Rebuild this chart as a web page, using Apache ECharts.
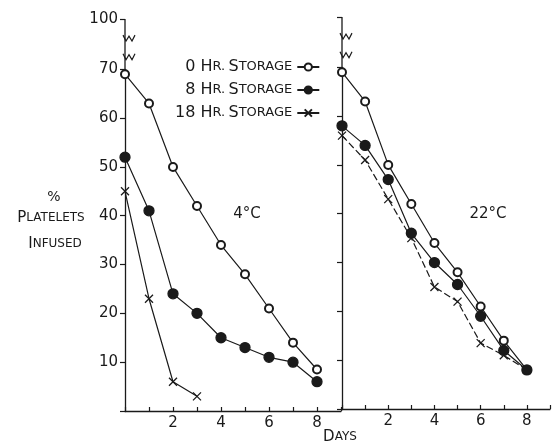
<!DOCTYPE html>
<html>
<head>
<meta charset="utf-8">
<title>Platelets infused after storage</title>
<script src="https://cdn.jsdelivr.net/npm/echarts@6.0.0/dist/echarts.min.js"></script>
<style>
  html, body { margin: 0; padding: 0; background: #fff; }
  #chart { width: 553px; height: 446px; }
</style>
</head>
<body>
<div id="chart"></div>
<script>
// days after infusion
const days = [0, 1, 2, 3, 4, 5, 6, 7, 8];
// 4°C panel
const cold0 = [69, 63, 50, 42, 34, 28, 21, 14, 8.5];
const cold8 = [52, 41, 24, 20, 15, 13, 11, 10, 6];
const cold18 = [45, 23, 6, 3];
// 22°C panel
const warm0 = [69, 63, 50, 42, 34, 28, 21, 14, 8];
const warm8 = [58, 54, 47, 36, 30, 25.5, 19, 12, 8];
const warm18 = [56, 51, 43, 35, 25, 22, 13.5, 11, 8];

const yTickLabels = [10, 20, 30, 40, 50, 60, 70, 100];
const dayLabels = [2, 4, 6, 8];
const seriesNames = ['0 HR. STORAGE', '8 HR. STORAGE', '18 HR. STORAGE'];

const ink = '#1a1a1a';
const font = 'DejaVu Sans';
const xMark = 'path://M0,0L10,10M10,0L0,10';

const pairs = (vals) => vals.map((v, i) => [days[i], v]);

const yAxisFor = (gridIndex, showLabels) => ({
  type: 'value',
  gridIndex,
  min: 0,
  max: 100,
  interval: 10,
  breaks: [{ start: 70, end: 100, gap: 10.3 }],
  breakArea: { show: false },
  axisLine: { show: true, lineStyle: { color: ink, width: 1.3 } },
  axisTick: { show: true, inside: false, length: 5, lineStyle: { color: ink, width: 1.2 } },
  axisLabel: {
    show: showLabels,
    margin: 7,
    color: ink,
    fontSize: 15,
    fontFamily: font,
    formatter: (v) => (yTickLabels.includes(v) ? String(v) : '')
  },
  splitLine: { show: false }
});

const xAxisFor = (gridIndex) => ({
  type: 'value',
  gridIndex,
  min: 0,
  max: 9,
  interval: 1,
  axisLine: { onZero: false, lineStyle: { color: ink, width: 1.3 } },
  axisTick: { inside: true, length: 4, lineStyle: { color: ink, width: 1.2 } },
  axisLabel: {
    margin: 5,
    color: ink,
    fontSize: 15,
    fontFamily: font,
    formatter: (v) => (dayLabels.includes(v) ? String(v) : '')
  },
  splitLine: { show: false }
});

const lineSeries = (name, data, idx, symbol, dashed) => ({
  name,
  type: 'line',
  xAxisIndex: idx,
  yAxisIndex: idx,
  data: pairs(data),
  symbol,
  symbolSize: symbol === 'circle' ? 10 : 8,
  showAllSymbol: true,
  lineStyle: { color: ink, width: 1.2, type: dashed ? [7, 3] : 'solid' },
  itemStyle: { color: ink, borderColor: ink, borderWidth: symbol === 'emptyCircle' ? 1.1 : 1.3 },
  emphasis: { disabled: true },
  z: symbol === 'circle' ? 3 : 2
});

const chart = echarts.init(document.getElementById('chart'));

const legendText = (name) => {
  const num = name.split(' ')[0];
  return '{n|' + num + ' }{b|H}{s|R.} {b|S}{s|TORAGE}';
};

const option = {
  animation: false,
  backgroundColor: '#fff',
  grid: [
    { left: 125, top: 19, bottom: 35, width: 216 },
    { left: 342, top: 17, bottom: 37, right: -9 }
  ],
  xAxis: [xAxisFor(0), xAxisFor(1)],
  yAxis: [yAxisFor(0, true), yAxisFor(1, false)],
  legend: {
    orient: 'vertical',
    left: 170,
    top: 54,
    align: 'right',
    itemWidth: 22,
    itemHeight: 9,
    itemGap: 7,
    selectedMode: false,
    data: seriesNames,
    formatter: legendText,
    textStyle: {
      color: ink,
      rich: {
        n: { fontSize: 16, fontFamily: font, color: ink },
        b: { fontSize: 16, fontFamily: font, color: ink },
        s: { fontSize: 13, fontFamily: font, color: ink }
      }
    }
  },
  series: [
    lineSeries(seriesNames[0], cold0, 0, 'emptyCircle', false),
    lineSeries(seriesNames[1], cold8, 0, 'circle', false),
    lineSeries(seriesNames[2], cold18, 0, xMark, false),
    lineSeries(seriesNames[0], warm0, 1, 'emptyCircle', false),
    lineSeries(seriesNames[1], warm8, 1, 'circle', false),
    lineSeries(seriesNames[2], warm18, 1, xMark, true)
  ]
};

chart.setOption(option);

// the y axes keep running through the 70–100 break, marked by two small zigzags
const smallCaps = { fontFamily: font, fill: ink };
const breakMarks = [];
[0, 1].forEach((i) => {
  const [ax, y70] = chart.convertToPixel({ xAxisIndex: i, yAxisIndex: i }, [0, 70]);
  const y100 = chart.convertToPixel({ xAxisIndex: i, yAxisIndex: i }, [0, 100])[1];
  breakMarks.push({
    type: 'line',
    shape: { x1: ax, y1: y70, x2: ax, y2: y100 },
    style: { stroke: ink, lineWidth: 1.3 }
  });
  [0.25, 0.62].forEach((f) => {
    const y = y70 + (y100 - y70) * f;
    breakMarks.push({
      type: 'polyline',
      shape: { points: [[ax - 2, y - 3], [ax + 1, y + 3], [ax + 4, y - 2], [ax + 7, y + 3], [ax + 10, y - 3]] },
      style: { stroke: ink, lineWidth: 1.2, fill: null }
    });
  });
});

chart.setOption({
  graphic: [
    ...breakMarks,
    { type: 'text', x: 247, y: 214, style: { text: '4°C', font: '15px "DejaVu Sans"', fill: ink, align: 'center', verticalAlign: 'middle' } },
    { type: 'text', x: 488, y: 214, style: { text: '22°C', font: '15px "DejaVu Sans"', fill: ink, align: 'center', verticalAlign: 'middle' } },
    { type: 'text', x: 54, y: 197, style: { text: '%', font: '14px "DejaVu Sans"', fill: ink, align: 'center', verticalAlign: 'middle' } },
    {
      type: 'text', x: 51, y: 218,
      style: {
        text: '{b|P}{s|LATELETS}', align: 'center', verticalAlign: 'middle',
        rich: { b: { fontSize: 15, ...smallCaps }, s: { fontSize: 12, ...smallCaps } }
      }
    },
    {
      type: 'text', x: 55, y: 244,
      style: {
        text: '{b|I}{s|NFUSED}', align: 'center', verticalAlign: 'middle',
        rich: { b: { fontSize: 15, ...smallCaps }, s: { fontSize: 12, ...smallCaps } }
      }
    },
    {
      type: 'text', x: 340, y: 437,
      style: {
        text: '{b|D}{s|AYS}', align: 'center', verticalAlign: 'middle',
        rich: { b: { fontSize: 15, ...smallCaps }, s: { fontSize: 12, ...smallCaps } }
      }
    }
  ]
});

window.addEventListener('resize', () => {
  chart.resize();
});
</script>
</body>
</html>
